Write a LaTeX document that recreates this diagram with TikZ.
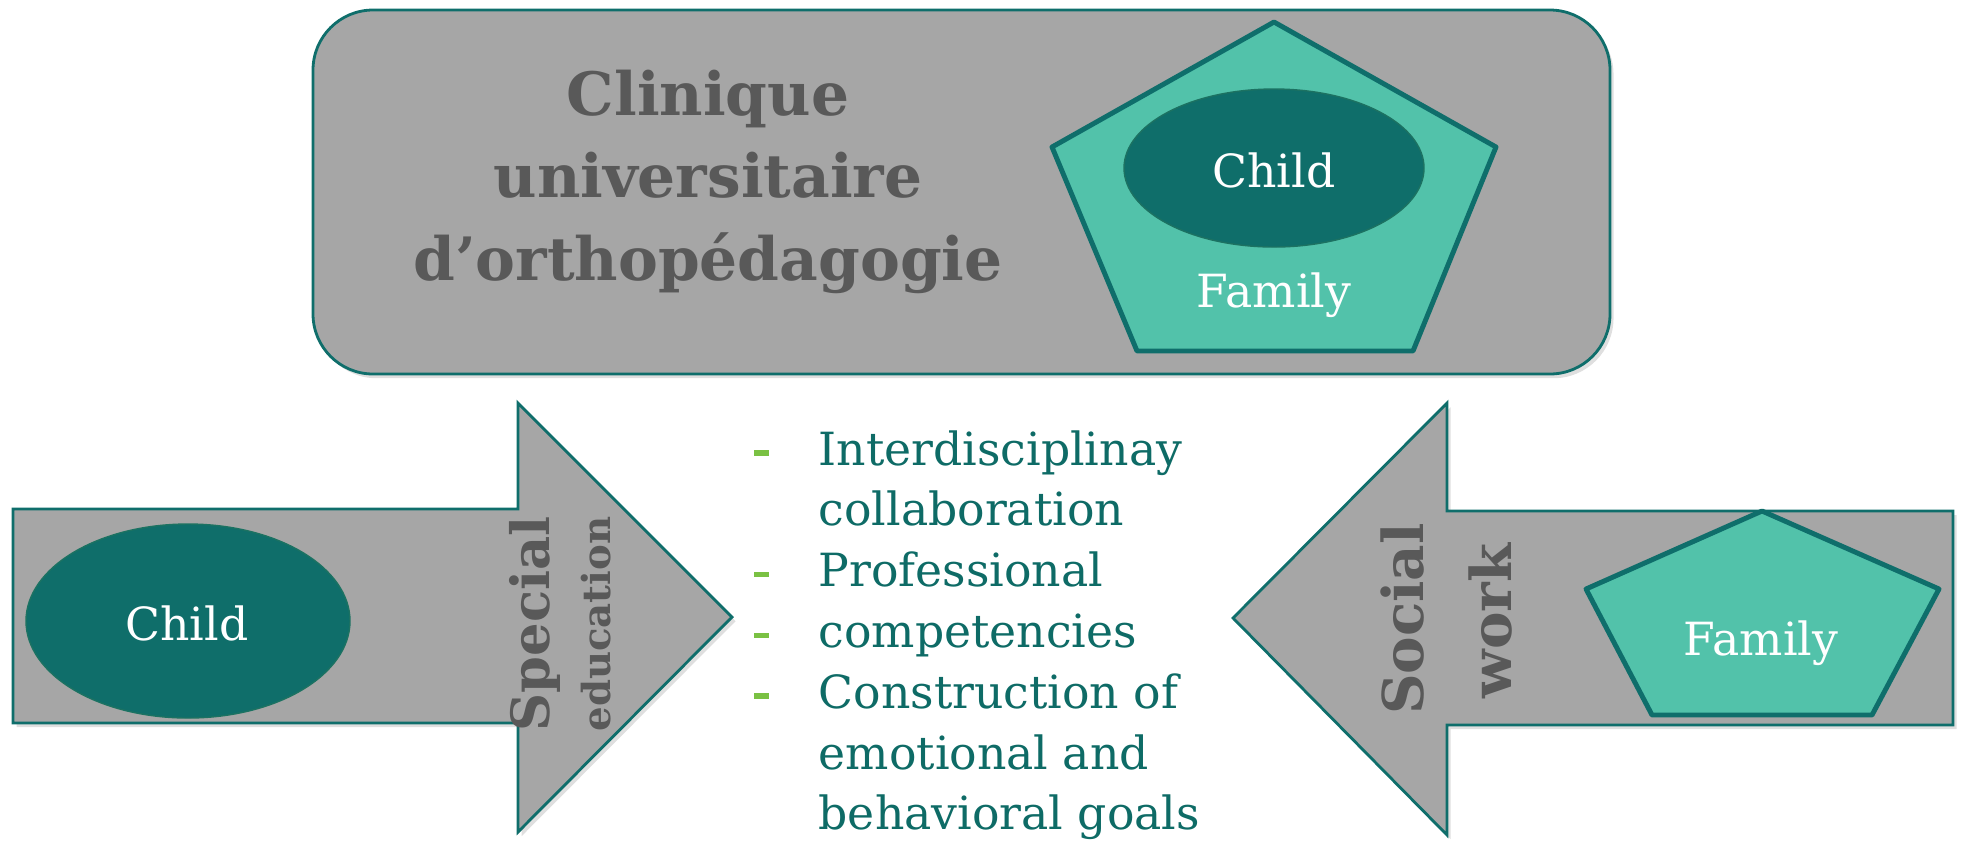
\documentclass[tikz,border=0pt]{standalone}
\usepackage{fontspec}
\setmainfont{DejaVu Serif}
\usetikzlibrary{positioning,shadows}

\definecolor{boxgray}{HTML}{A6A6A6}
\definecolor{tealline}{HTML}{0F6E6B}
\definecolor{tealfill}{HTML}{52C2AA}
\definecolor{tealdark}{HTML}{0F6E6A}
\definecolor{coreline}{HTML}{1C7262}
\definecolor{textgray}{HTML}{595959}
\definecolor{dashgreen}{HTML}{7AC143}
\definecolor{itemteal}{HTML}{0E6B66}

\tikzset{
    panel/.style={fill=boxgray, draw=tealline, line width=0.8pt,
        drop shadow={shadow xshift=1pt, shadow yshift=-1.2pt, opacity=0.25}},
    pent/.style={fill=tealfill, draw=tealline, line width=1.4pt, line join=round},
    core/.style={fill=tealdark, draw=coreline, line width=0.4pt},
    whitelabel/.style={text=white, font=\fontsize{13}{15}\selectfont, inner sep=0pt},
    titleline/.style={text=textgray, font=\bfseries\fontsize{17}{20}\selectfont, anchor=base, inner sep=0pt},
    sidelabel/.style={text=textgray, font=\bfseries\fontsize{16}{18}\selectfont, rotate=90, inner sep=0pt},
    itemtext/.style={text=itemteal, font=\fontsize{13}{15}\selectfont, anchor=base west, inner sep=0pt},
    bulletdash/.style={fill=dashgreen, minimum width=0.15cm, minimum height=0.055cm, inner sep=0pt}
}

\begin{document}
\begin{tikzpicture}[x=0.01cm, y=-0.01cm]
    \useasboundingbox (0,0) rectangle (1961,841);

    % top panel
    \draw[panel, rounded corners=0.6cm] (313,10) rectangle (1610,374);
    \node[titleline] (clin) at (708,115) {Clinique};
    \node[titleline] (univ) at (708,197) {universitaire};
    \node[titleline] (ortho) at (708,280) {d’orthopédagogie};

    \coordinate (T1) at (1274,22);
    \coordinate (T2) at (1496,147);
    \coordinate (T3) at (1413,351);
    \coordinate (T4) at (1137,351);
    \coordinate (T5) at (1052,147);
    \filldraw[pent] (T1) -- (T2) -- (T3) -- (T4) -- (T5) -- cycle;
    \draw[core] (1274,168) ellipse [x radius=150, y radius=79];
    \node[whitelabel] (topchild) at (1274,170) {Child};
    \node[whitelabel, anchor=base] (topfamily) at (1274,307) {Family};

    % left arrow
    \draw[panel] (13,509) -- (518,509) -- (518,403) -- (732,617)
        -- (518,832) -- (518,723) -- (13,723) -- cycle;
    \draw[core] (188,621) ellipse [x radius=162, y radius=97];
    \node[whitelabel] (leftchild) at (187,623) {Child};
    \node[sidelabel, font=\bfseries\fontsize{15}{17}\selectfont] (special) at (535,624) {Special};
    \node[sidelabel, font=\bfseries\fontsize{11}{13}\selectfont] (educ) at (596,624) {education};

    % right arrow
    \draw[panel] (1953,511) -- (1447,511) -- (1447,403) -- (1233,618)
        -- (1447,835) -- (1447,725) -- (1953,725) -- cycle;
    \coordinate (R1) at (1762,511);
    \coordinate (R2) at (1939,589);
    \coordinate (R3) at (1872,715);
    \coordinate (R4) at (1652,715);
    \coordinate (R5) at (1586,589);
    \filldraw[pent] (R1) -- (R2) -- (R3) -- (R4) -- (R5) -- cycle;
    \node[whitelabel, anchor=base] (rightfamily) at (1761,655) {Family};
    \node[sidelabel] (social) at (1403,619) {Social};
    \node[sidelabel] (work) at (1490,621) {work};

    % items
    \foreach \txt [count=\i] in {Interdisciplinay, collaboration, Professional,
        competencies, Construction of, emotional and, behavioral goals}
        \node[itemtext] (item\i) at (818,{465+60.8*(\i-1)}) {\txt};
    \foreach \i in {1,3,4,5}
        \node[bulletdash] (dash\i) at (761,{453+60.8*(\i-1)}) {};
\end{tikzpicture}
\end{document}
